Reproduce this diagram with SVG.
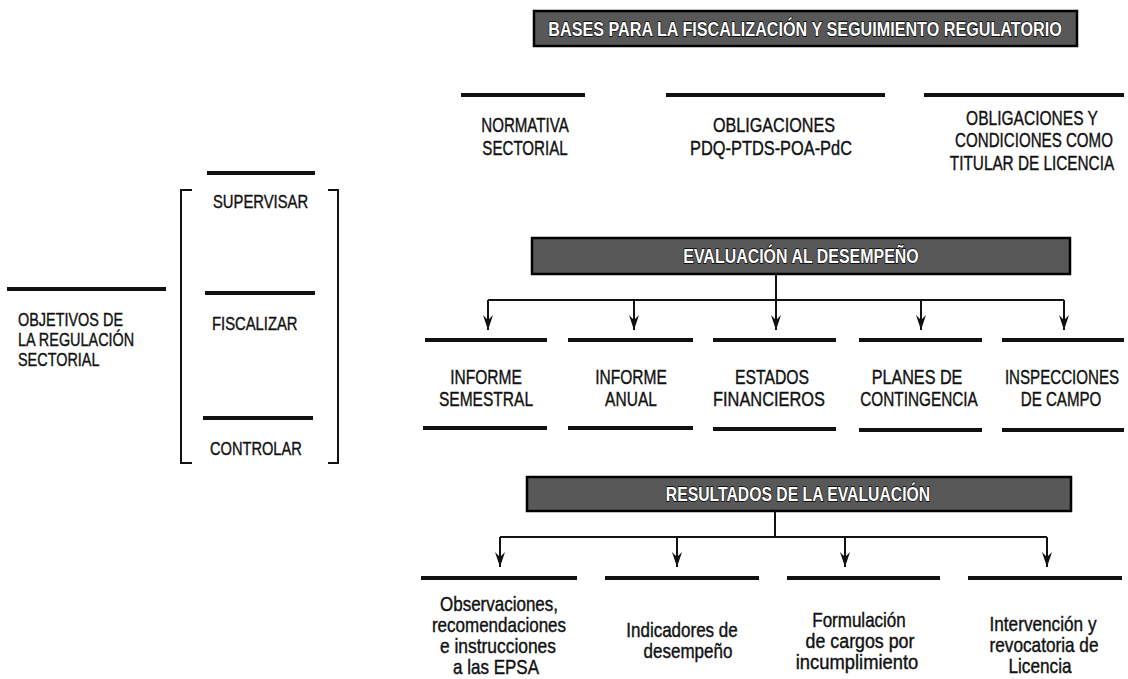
<svg xmlns="http://www.w3.org/2000/svg" width="1128" height="679" viewBox="0 0 1128 679">
<style>
.bg{fill:#ffffff}
.banner{fill:#585858;stroke:#000;stroke-width:2.5}
.btxt{font-family:"Liberation Sans",Arial,sans-serif;font-weight:bold;font-size:21px;fill:#fff;stroke:#000;stroke-width:1.4;paint-order:stroke fill;text-anchor:middle}
.bar{fill:#111}
.lbl{font-family:"Liberation Sans",Arial,sans-serif;font-size:21px;fill:#111;stroke:#111;stroke-width:0.4;text-anchor:middle}
.lft{text-anchor:start;font-size:19px}
.low{font-size:20px}
.conn{fill:none;stroke:#111;stroke-width:2}
.brk{fill:none;stroke:#111;stroke-width:2}
</style>
<defs>
<marker id="arr" viewBox="-16 -6 17 12" refX="0" refY="0" markerWidth="17" markerHeight="12" markerUnits="userSpaceOnUse" orient="auto">
<path d="M0,0 L-15,-5 L-10,0 L-15,5 Z" fill="#111"/>
</marker>
</defs>
<rect class="bg" x="0" y="0" width="1128" height="679"/>

<g id="banner-bases">
<rect class="banner" x="534" y="11" width="543" height="35"/>
<text class="btxt" transform="translate(805,36) scale(0.77,1)">BASES PARA LA FISCALIZACIÓN Y SEGUIMIENTO REGULATORIO</text>
</g>

<g id="node-normativa">
<rect class="bar" x="461" y="93" width="124" height="4"/>
<text class="lbl" transform="translate(525,132) scale(0.72,1)">NORMATIVA</text>
<text class="lbl" transform="translate(525,155) scale(0.72,1)">SECTORIAL</text>
</g>
<g id="node-obligaciones">
<rect class="bar" x="666" y="93" width="219" height="4"/>
<text class="lbl" transform="translate(774,132) scale(0.77,1)">OBLIGACIONES</text>
<text class="lbl" transform="translate(771,155) scale(0.78,1)">PDQ-PTDS-POA-PdC</text>
</g>
<g id="node-titular">
<rect class="bar" x="924" y="93" width="200" height="4"/>
<text class="lbl" transform="translate(1032,125) scale(0.74,1)">OBLIGACIONES Y</text>
<text class="lbl" transform="translate(1034,147) scale(0.72,1)">CONDICIONES COMO</text>
<text class="lbl" transform="translate(1032,170) scale(0.73,1)">TITULAR DE LICENCIA</text>
</g>

<g id="node-objetivos">
<rect class="bar" x="7" y="287" width="159" height="4"/>
<text class="lbl lft" transform="translate(18,326) scale(0.76,1)">OBJETIVOS DE</text>
<text class="lbl lft" transform="translate(18,346) scale(0.76,1)">LA REGULACIÓN</text>
<text class="lbl lft" transform="translate(18,366) scale(0.76,1)">SECTORIAL</text>
</g>

<g id="bracket">
<path class="brk" d="M192,190 H181 V463 H192"/>
<path class="brk" d="M328,190 H338 V463 H328"/>
</g>
<g id="node-supervisar">
<rect class="bar" x="207" y="171" width="108" height="4"/>
<text class="lbl lft" transform="translate(213,208) scale(0.78,1)">SUPERVISAR</text>
</g>
<g id="node-fiscalizar">
<rect class="bar" x="205" y="291" width="110" height="4"/>
<text class="lbl lft" transform="translate(212,330) scale(0.78,1)">FISCALIZAR</text>
</g>
<g id="node-controlar">
<rect class="bar" x="203" y="416" width="110" height="4"/>
<text class="lbl lft" transform="translate(210,455) scale(0.77,1)">CONTROLAR</text>
</g>

<g id="banner-evaluacion">
<rect class="banner" x="532" y="238" width="538" height="36"/>
<text class="btxt" transform="translate(801,263) scale(0.76,1)">EVALUACIÓN AL DESEMPEÑO</text>
</g>

<g id="node-semestral">
<rect class="bar" x="425" y="338" width="122" height="4"/>
<text class="lbl" transform="translate(486,384) scale(0.74,1)">INFORME</text>
<text class="lbl" transform="translate(486,406) scale(0.74,1)">SEMESTRAL</text>
<rect class="bar" x="423" y="426" width="124" height="4"/>
</g>
<g id="node-anual">
<rect class="bar" x="568" y="338" width="125" height="4"/>
<text class="lbl" transform="translate(631,384) scale(0.74,1)">INFORME</text>
<text class="lbl" transform="translate(631,406) scale(0.74,1)">ANUAL</text>
<rect class="bar" x="568" y="426" width="125" height="4"/>
</g>
<g id="node-estados">
<rect class="bar" x="713" y="338" width="123" height="4"/>
<text class="lbl" transform="translate(772,384) scale(0.75,1)">ESTADOS</text>
<text class="lbl" transform="translate(769,406) scale(0.78,1)">FINANCIEROS</text>
<rect class="bar" x="713" y="427" width="123" height="4"/>
</g>
<g id="node-planes">
<rect class="bar" x="859" y="338" width="123" height="4"/>
<text class="lbl" transform="translate(917,384) scale(0.77,1)">PLANES DE</text>
<text class="lbl" transform="translate(919,406) scale(0.73,1)">CONTINGENCIA</text>
<rect class="bar" x="859" y="428" width="123" height="4"/>
</g>
<g id="node-inspecciones">
<rect class="bar" x="1002" y="338" width="122" height="4"/>
<text class="lbl" transform="translate(1062,384) scale(0.72,1)">INSPECCIONES</text>
<text class="lbl" transform="translate(1061,406) scale(0.72,1)">DE CAMPO</text>
<rect class="bar" x="1002" y="428" width="122" height="4"/>
</g>

<g id="banner-resultados">
<rect class="banner" x="527" y="477" width="544" height="34"/>
<text class="btxt" transform="translate(798,501) scale(0.75,1)">RESULTADOS DE LA EVALUACIÓN</text>
</g>

<g id="node-observaciones">
<rect class="bar" x="421" y="576" width="156" height="4"/>
<text class="lbl low" transform="translate(499,611) scale(0.85,1)">Observaciones,</text>
<text class="lbl low" transform="translate(499,632) scale(0.85,1)">recomendaciones</text>
<text class="lbl low" transform="translate(498,653) scale(0.87,1)">e instrucciones</text>
<text class="lbl low" transform="translate(496,674) scale(0.85,1)">a las EPSA</text>
</g>
<g id="node-indicadores">
<rect class="bar" x="605" y="576" width="154" height="4"/>
<text class="lbl low" transform="translate(682,637) scale(0.85,1)">Indicadores de</text>
<text class="lbl low" transform="translate(688,658) scale(0.85,1)">desempeño</text>
</g>
<g id="node-formulacion">
<rect class="bar" x="787" y="576" width="153" height="4"/>
<text class="lbl low" transform="translate(859,627) scale(0.85,1)">Formulación</text>
<text class="lbl low" transform="translate(860,648) scale(0.89,1)">de cargos por</text>
<text class="lbl low" transform="translate(857,669) scale(0.92,1)">incumplimiento</text>
</g>
<g id="node-intervencion">
<rect class="bar" x="968" y="576" width="154" height="4"/>
<text class="lbl low" transform="translate(1043,631) scale(0.86,1)">Intervención y</text>
<text class="lbl low" transform="translate(1044,652) scale(0.86,1)">revocatoria de</text>
<text class="lbl low" transform="translate(1040,673) scale(0.86,1)">Licencia</text>
</g>

<g id="connectors">
<path class="conn" d="M776,274 V300 M488,300 H1064"/>
<path class="conn" d="M488,300 V330" marker-end="url(#arr)"/>
<path class="conn" d="M634,300 V330" marker-end="url(#arr)"/>
<path class="conn" d="M776,300 V330" marker-end="url(#arr)"/>
<path class="conn" d="M921,300 V330" marker-end="url(#arr)"/>
<path class="conn" d="M1064,300 V330" marker-end="url(#arr)"/>
<path class="conn" d="M775,511 V537 M500,537 H1047"/>
<path class="conn" d="M500,537 V567" marker-end="url(#arr)"/>
<path class="conn" d="M677,537 V567" marker-end="url(#arr)"/>
<path class="conn" d="M845,537 V567" marker-end="url(#arr)"/>
<path class="conn" d="M1047,537 V567" marker-end="url(#arr)"/>
</g>
</svg>
